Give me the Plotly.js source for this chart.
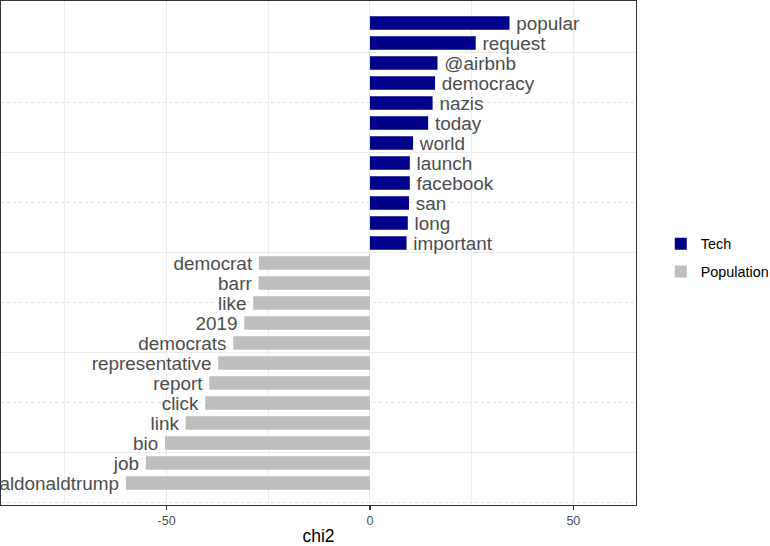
<!DOCTYPE html>
<html><head><meta charset="utf-8">
<script src="https://cdn.plot.ly/plotly-3.0.1.min.js"></script>
<style>html,body{margin:0;padding:0;background:#fff}#chart{width:770px;height:546px}</style>
</head><body><div id="chart"></div>
<script>
const techWords = ["popular","request","@airbnb","democracy","nazis","today","world","launch","facebook","san","long","important"];
const techChi2 = [34.3,26.0,16.6,16.0,15.4,14.3,10.6,9.8,9.8,9.6,9.3,9.0];
const popWords = ["democrat","barr","like","2019","democrats","representative","report","click","link","bio","job","@realdonaldtrump"];
const popChi2 = [-27.3,-27.4,-28.7,-30.9,-33.6,-37.3,-39.5,-40.5,-45.3,-50.4,-55.1,-60.0];
const seriesNames = ["Tech","Population"];
const xTickVals = [-50,0,50];

const nTotal = techWords.length + popWords.length;
const techY = techWords.map((_, i) => nTotal - i);
const popY = popWords.map((_, i) => popWords.length - i);

const FONT = "Liberation Sans, Arial, sans-serif";
const labelFont = {family: FONT, size: 18.9, color: "#4d4d4d"};

function barTrace(name, x, y, words, color, group, tmpl) {
  return {
    type: "bar", orientation: "h", name: name, x: x, y: y,
    text: words, texttemplate: tmpl, textposition: "outside", constraintext: "none", cliponaxis: true,
    textfont: labelFont, width: 0.67,
    marker: {color: color, line: {width: 0}},
    legendgroup: group, hoverinfo: "x+text"
  };
}

const data = [
  barTrace(seriesNames[0], techChi2, techY, techWords, "#00008B", "a", "\u2009%{text}"),
  barTrace(seriesNames[1], popChi2, popY, popWords, "#BEBEBE", "b", "%{text}\u2009")
];

const layout = {
  width: 770, height: 546,
  margin: {l: 1, r: 134, t: 1, b: 41, pad: 0, autoexpand: false},
  paper_bgcolor: "#fff", plot_bgcolor: "#fff",
  barmode: "overlay",
  font: {family: FONT},
  showlegend: true,
  legend: {
    x: 1.039, xanchor: "left", y: 0.55, yanchor: "top",
    font: {family: FONT, size: 14.4, color: "#000"},
    traceorder: "grouped", tracegroupgap: 6, bgcolor: "rgba(0,0,0,0)"
  },
  xaxis: {
    range: [-90.7, 65.4], tickmode: "array", tickvals: xTickVals,
    ticktext: xTickVals.map(String),
    showgrid: true, gridcolor: "#ebebeb", gridwidth: 1,
    minor: {dtick: 25, tick0: 0, showgrid: true, gridcolor: "#ededed", gridwidth: 1, ticks: ""},
    zeroline: false, showline: true, mirror: true, linecolor: "#333", linewidth: 1.3,
    ticks: "outside", ticklen: 4, tickwidth: 1.2, tickcolor: "#333",
    tickfont: {family: FONT, size: 12.5, color: "#4d4d4d"},
    title: {text: "chi2", font: {family: FONT, size: 17.5, color: "#000"}, standoff: 15},
    fixedrange: true
  },
  yaxis: {
    range: [-0.1, 25.1], tickmode: "linear", tick0: 2.55, dtick: 5,
    showticklabels: false, ticks: "",
    showgrid: true, gridcolor: "#ebebeb", gridwidth: 1,
    minor: {tick0: 0.05, dtick: 5, showgrid: true, griddash: "dot", gridcolor: "#e3e3e3", gridwidth: 1, ticks: ""},
    zeroline: false, showline: true, mirror: true, linecolor: "#333", linewidth: 1.3,
    fixedrange: true
  }
};

Plotly.newPlot("chart", data, layout, {displayModeBar: false, staticPlot: true});
</script>
</body></html>
